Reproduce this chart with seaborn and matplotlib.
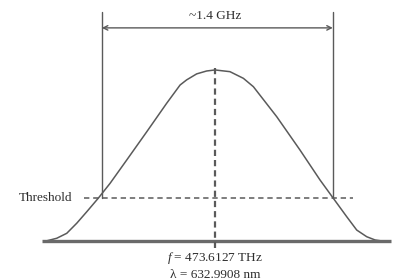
import matplotlib
matplotlib.use("Agg")
import matplotlib.pyplot as plt
import seaborn as sns
import pandas as pd

# Data: frequency offset (GHz) from line centre and relative gain
freq_offset = [-1.030, -0.965, -0.904, -0.843, -0.782, -0.712, -0.640, -0.538,
               -0.416, -0.295, -0.213, -0.173, -0.112, -0.051, 0.0,
               0.091, 0.173, 0.234, 0.376, 0.518, 0.640, 0.721, 0.803,
               0.864, 0.925, 0.976, 1.018]
gain = [0.0, 0.016, 0.045, 0.104, 0.171, 0.250, 0.337, 0.474,
        0.639, 0.805, 0.912, 0.942, 0.977, 0.994, 1.0,
        0.990, 0.951, 0.902, 0.727, 0.532, 0.357, 0.250, 0.142,
        0.064, 0.025, 0.006, 0.0]
threshold_level = 0.253
band_edges = [-0.690, 0.718]
bandwidth_label = "~1.4 GHz"
threshold_label = "Threshold"
centre_labels = ["$f$ = 473.6127 THz", "λ = 632.9908 nm"]

sns.set_style("white")
plt.rcParams["font.family"] = ["Liberation Serif", "DejaVu Serif"]
plt.rcParams["mathtext.fontset"] = "custom"
plt.rcParams["mathtext.it"] = "Liberation Serif:italic"
plt.rcParams["mathtext.rm"] = "Liberation Serif"

fig = plt.figure(figsize=(4.02, 2.80), dpi=100)
ax = fig.add_axes([0, 0, 1, 1])
ax.set_xlim(-1.311, 1.140)
ax.set_ylim(-0.228, 1.409)
ax.axis("off")

line_col = "#5a5a5a"
text_col = "#2e2e2e"
fs = 9.5

df = pd.DataFrame({"x": freq_offset, "y": gain})
sns.lineplot(data=df, x="x", y="y", sort=False, color=line_col, lw=1.1, ax=ax)

# baseline
ax.plot([-1.055, 1.073], [0, 0], color="#6a6a6a", lw=2.4, solid_capstyle="butt", zorder=3)

# threshold
ax.plot([-0.799, 0.843], [threshold_level, threshold_level], color=line_col, lw=1.1,
        dashes=(3.5, 2.5))
ax.text(-0.872, threshold_level, threshold_label, ha="right", va="center",
        fontsize=fs, color=text_col)

# centre dashed line
ax.plot([0, 0], [1.012, -0.041], color=line_col, lw=1.6, dashes=(2.8, 1.8), zorder=4)

# band edges
for e in band_edges:
    ax.plot([e, e], [threshold_level, 1.339], color=line_col, lw=1.0)
ax.annotate("", xy=(band_edges[0], 1.246), xytext=(band_edges[1], 1.246),
            arrowprops=dict(arrowstyle="<->", color=line_col, lw=1.0,
                            shrinkA=0, shrinkB=0, mutation_scale=8))
ax.text(0, 1.316, bandwidth_label, ha="center", va="center", fontsize=fs, color=text_col)

ax.text(0, -0.099, centre_labels[0], ha="center", va="center", fontsize=fs, color=text_col)
ax.text(0, -0.199, centre_labels[1], ha="center", va="center", fontsize=fs, color=text_col)

fig.savefig("out.png", dpi=100)
